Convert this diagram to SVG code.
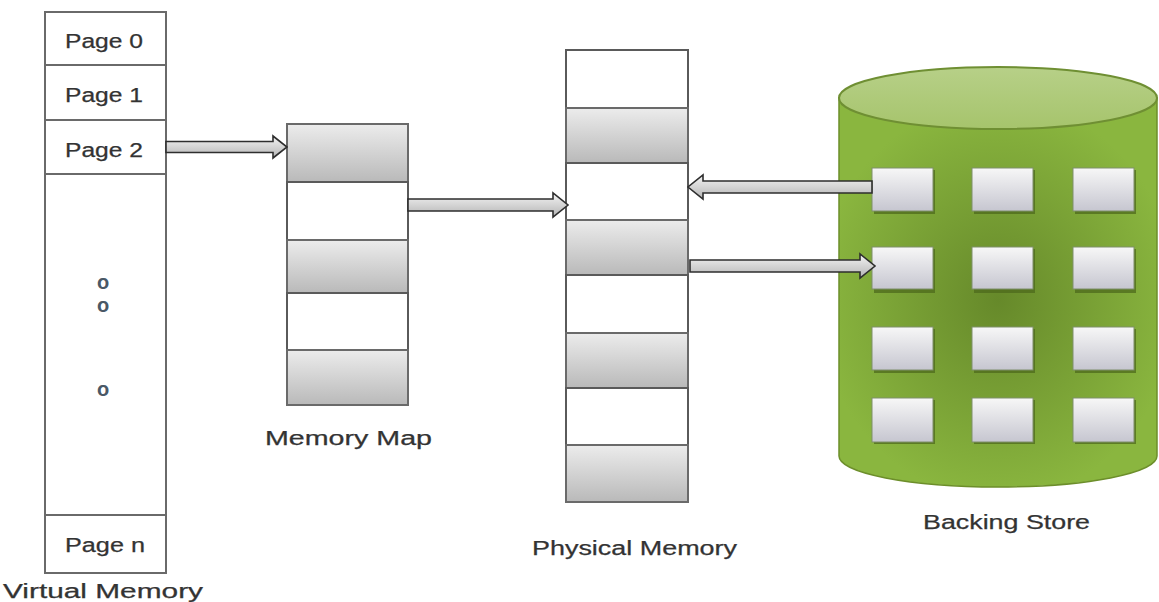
<svg xmlns="http://www.w3.org/2000/svg" width="1159" height="602" viewBox="0 0 1159 602">
<defs>
<linearGradient id="cellGray" x1="0" y1="0" x2="0" y2="1">
<stop offset="0" stop-color="#ececec"/>
<stop offset="1" stop-color="#b9b9b9"/>
</linearGradient>
<linearGradient id="arrowFill" x1="0" y1="0" x2="0" y2="1">
<stop offset="0" stop-color="#f4f4f4"/>
<stop offset="1" stop-color="#b4b4b4"/>
</linearGradient>
<radialGradient id="cylBody" gradientUnits="userSpaceOnUse" cx="998" cy="300" r="200" gradientTransform="translate(998 300) scale(0.9 1) translate(-998 -300)">
<stop offset="0" stop-color="#66892a"/>
<stop offset="1" stop-color="#8ab63f"/>
</radialGradient>
<linearGradient id="cylTop" x1="0" y1="0" x2="0" y2="1">
<stop offset="0" stop-color="#b7d088"/>
<stop offset="1" stop-color="#a6c46c"/>
</linearGradient>
<linearGradient id="sq" x1="0" y1="0" x2="0" y2="1">
<stop offset="0" stop-color="#f7f7f7"/>
<stop offset="1" stop-color="#c6c6d0"/>
</linearGradient>
<style>
.lbl{font-family:"Liberation Sans","Open Sans",Arial,sans-serif;font-size:20px;fill:#333;stroke:#333;stroke-width:0.25;}
.box{fill:#fff;stroke:#6a6a6a;stroke-width:2;}
.g{fill:url(#cellGray);stroke:#6a6a6a;stroke-width:2;}
.w{fill:#fff;stroke:#5a5a5a;stroke-width:2;}
.arr{fill:url(#arrowFill);stroke:#2e2e2e;stroke-width:1.6;stroke-linejoin:miter;}
.dot{font-family:"Liberation Sans",Arial,sans-serif;font-size:20px;font-weight:bold;fill:#4a5866;}
.sqs{fill:#4e6a1c;opacity:0.75;}
.sqf{fill:url(#sq);stroke:#7e8f6a;stroke-width:1;}
</style>
</defs>
<rect width="1159" height="602" fill="#fff"/>

<g id="virtual-memory">
<rect class="box" x="45" y="12" width="121" height="561"/>
<line x1="45" y1="65" x2="166" y2="65" stroke="#6a6a6a" stroke-width="2"/>
<line x1="45" y1="120" x2="166" y2="120" stroke="#6a6a6a" stroke-width="2"/>
<line x1="45" y1="174" x2="166" y2="174" stroke="#6a6a6a" stroke-width="2"/>
<line x1="45" y1="515" x2="166" y2="515" stroke="#6a6a6a" stroke-width="2"/>
<text class="lbl" x="65" y="48" textLength="78" lengthAdjust="spacingAndGlyphs">Page 0</text>
<text class="lbl" x="65" y="102" textLength="78" lengthAdjust="spacingAndGlyphs">Page 1</text>
<text class="lbl" x="65" y="157" textLength="78" lengthAdjust="spacingAndGlyphs">Page 2</text>
<text class="dot" x="97" y="289">o</text>
<text class="dot" x="97" y="312">o</text>
<text class="dot" x="97" y="396">o</text>
<text class="lbl" x="65" y="552" textLength="80" lengthAdjust="spacingAndGlyphs">Page n</text>
<text class="lbl" x="3" y="598" textLength="200" lengthAdjust="spacingAndGlyphs">Virtual Memory</text>
</g>

<g id="memory-map">
<rect class="g" x="287" y="124" width="121" height="58"/>
<rect class="w" x="287" y="182" width="121" height="58"/>
<rect class="g" x="287" y="240" width="121" height="53"/>
<rect class="w" x="287" y="293" width="121" height="57"/>
<rect class="g" x="287" y="350" width="121" height="55"/>
<text class="lbl" x="265" y="445" textLength="167" lengthAdjust="spacingAndGlyphs">Memory Map</text>
</g>

<g id="physical-memory">
<rect class="w" x="566" y="50" width="122" height="58"/>
<rect class="g" x="566" y="108" width="122" height="55"/>
<rect class="w" x="566" y="163" width="122" height="57"/>
<rect class="g" x="566" y="220" width="122" height="55"/>
<rect class="w" x="566" y="275" width="122" height="58"/>
<rect class="g" x="566" y="333" width="122" height="55"/>
<rect class="w" x="566" y="388" width="122" height="57"/>
<rect class="g" x="566" y="445" width="122" height="57"/>
<text class="lbl" x="532" y="555" textLength="205" lengthAdjust="spacingAndGlyphs">Physical Memory</text>
</g>

<g id="backing-store">
<path d="M839,98 L839,456 A159,31 0 0 0 1157,456 L1157,98 Z" fill="url(#cylBody)" stroke="#6c8e2a" stroke-width="1.5"/>
<ellipse cx="998" cy="98" rx="159" ry="31" fill="url(#cylTop)" stroke="#6f8f33" stroke-width="2"/>
<g id="store-blocks">
<rect class="sqs" x="874" y="170" width="61" height="44"/><rect class="sqf" x="872" y="168" width="61" height="43"/>
<rect class="sqs" x="974" y="170" width="61" height="44"/><rect class="sqf" x="972" y="168" width="61" height="43"/>
<rect class="sqs" x="1075" y="170" width="61" height="44"/><rect class="sqf" x="1073" y="168" width="61" height="43"/>
<rect class="sqs" x="874" y="249" width="61" height="44"/><rect class="sqf" x="872" y="247" width="61" height="42"/>
<rect class="sqs" x="974" y="249" width="61" height="44"/><rect class="sqf" x="972" y="247" width="61" height="42"/>
<rect class="sqs" x="1075" y="249" width="61" height="44"/><rect class="sqf" x="1073" y="247" width="61" height="42"/>
<rect class="sqs" x="874" y="329" width="61" height="44"/><rect class="sqf" x="872" y="327" width="61" height="43"/>
<rect class="sqs" x="974" y="329" width="61" height="44"/><rect class="sqf" x="972" y="327" width="61" height="43"/>
<rect class="sqs" x="1075" y="329" width="61" height="44"/><rect class="sqf" x="1073" y="327" width="61" height="43"/>
<rect class="sqs" x="874" y="400" width="61" height="44"/><rect class="sqf" x="872" y="398" width="61" height="44"/>
<rect class="sqs" x="974" y="400" width="61" height="44"/><rect class="sqf" x="972" y="398" width="61" height="44"/>
<rect class="sqs" x="1075" y="400" width="61" height="44"/><rect class="sqf" x="1073" y="398" width="61" height="44"/>
</g>
<text class="lbl" x="923" y="529" textLength="167" lengthAdjust="spacingAndGlyphs">Backing Store</text>
</g>

<g id="connectors">
<path class="arr" d="M166,141.5 L273,141.5 L273,136 L287,147 L273,158 L273,152.5 L166,152.5 Z"/>
<path class="arr" d="M408,199 L553,199 L553,193 L568,205 L553,217 L553,211 L408,211 Z"/>
<path class="arr" d="M872,181 L703,181 L703,175 L688,187 L703,199 L703,193 L872,193 Z"/>
<path class="arr" d="M690,260 L860,260 L860,254 L875,266 L860,278 L860,272 L690,272 Z"/>
</g>
</svg>
